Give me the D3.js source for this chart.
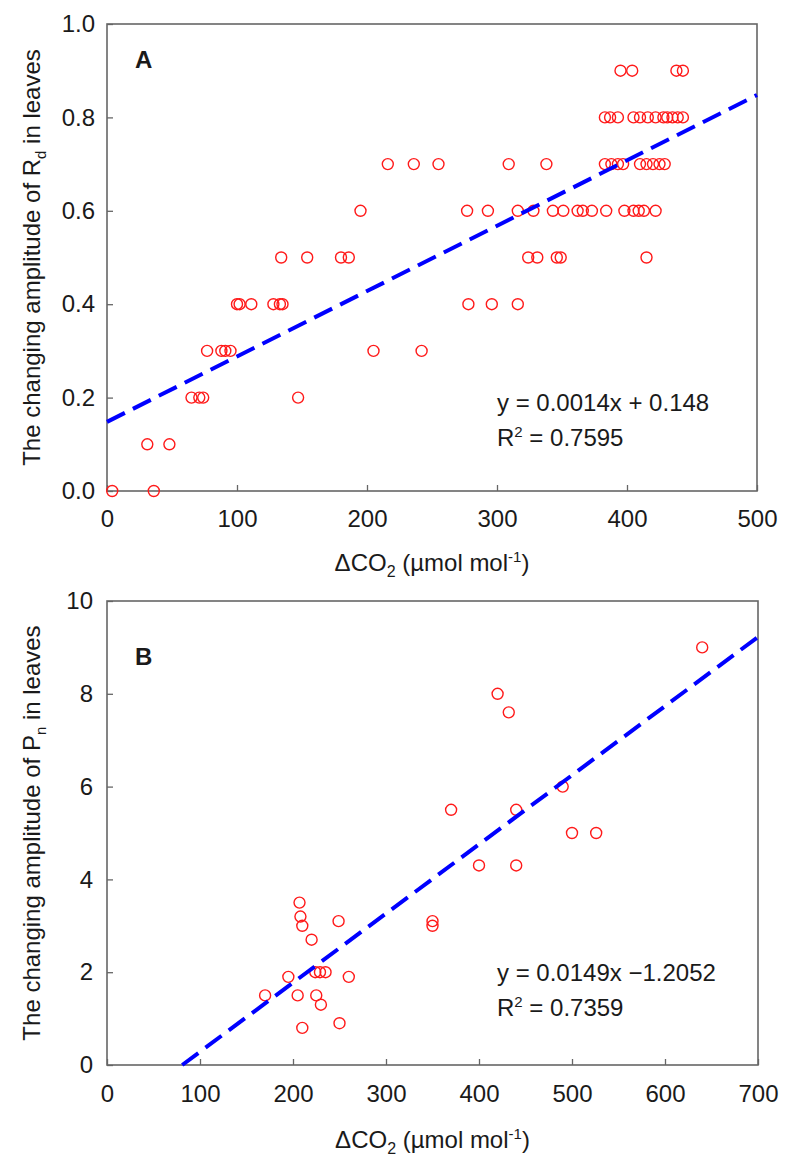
<!DOCTYPE html>
<html>
<head>
<meta charset="utf-8">
<script src="https://cdn.jsdelivr.net/npm/d3@7"></script>
<style>
  html, body { margin: 0; padding: 0; background: #fff; }
  svg text { font-family: "Liberation Sans", Arial, sans-serif; fill: #1a1a1a; }
</style>
</head>
<body>
<svg id="chart" width="787" height="1165"></svg>
<script>
// ---------- Panel A data (Rd) ----------
const rdDeltaCO2 = [
  4, 36,
  31, 48,
  65, 71, 74, 147,
  77, 88, 91, 95, 205, 242,
  100, 102, 111, 128, 133, 135, 278, 296, 316,
  134, 154, 180, 186, 324, 331, 346, 349, 415,
  195, 277, 293, 316, 328, 343, 351, 362, 366, 373, 384, 398, 405, 409, 413, 422,
  216, 236, 255, 309, 338, 383, 388, 393, 397, 410, 415, 420, 425, 429,
  383, 387, 393, 405, 410, 416, 422, 428, 431, 435, 439, 443,
  395, 404, 438, 443
];
const rdAmplitude = [
  0.0, 0.0,
  0.1, 0.1,
  0.2, 0.2, 0.2, 0.2,
  0.3, 0.3, 0.3, 0.3, 0.3, 0.3,
  0.4, 0.4, 0.4, 0.4, 0.4, 0.4, 0.4, 0.4, 0.4,
  0.5, 0.5, 0.5, 0.5, 0.5, 0.5, 0.5, 0.5, 0.5,
  0.6, 0.6, 0.6, 0.6, 0.6, 0.6, 0.6, 0.6, 0.6, 0.6, 0.6, 0.6, 0.6, 0.6, 0.6, 0.6,
  0.7, 0.7, 0.7, 0.7, 0.7, 0.7, 0.7, 0.7, 0.7, 0.7, 0.7, 0.7, 0.7, 0.7,
  0.8, 0.8, 0.8, 0.8, 0.8, 0.8, 0.8, 0.8, 0.8, 0.8, 0.8, 0.8,
  0.9, 0.9, 0.9, 0.9
];
const rdFit = { slope: 0.0014, intercept: 0.148, r2: "0.7595" };
const rdXTicks = [0, 100, 200, 300, 400, 500];
const rdYTicks = [0, 0.2, 0.4, 0.6, 0.8, 1.0];

// ---------- Panel B data (Pn) ----------
const pnDeltaCO2 = [170, 195, 205, 207, 208, 210, 210, 220, 224, 229, 235, 225, 230, 249, 250, 260,
                    350, 350, 370, 400, 420, 432, 440, 440, 490, 500, 526, 640];
const pnAmplitude = [1.5, 1.9, 1.5, 3.5, 3.2, 3.0, 0.8, 2.7, 2.0, 2.0, 2.0, 1.5, 1.3, 3.1, 0.9, 1.9,
                     3.1, 3.0, 5.5, 4.3, 8.0, 7.6, 5.5, 4.3, 6.0, 5.0, 5.0, 9.0];
const pnFit = { slope: 0.0149, intercept: -1.2052, r2: "0.7359" };
const pnXTicks = [0, 100, 200, 300, 400, 500, 600, 700];
const pnYTicks = [0, 2, 4, 6, 8, 10];

const svg = d3.select("#chart");
const FS = 24;
const axisColor = "#666";

function panel(cfg) {
  const x = d3.scaleLinear().domain(cfg.xDomain).range([cfg.left, cfg.right]);
  const y = d3.scaleLinear().domain(cfg.yDomain).range([cfg.bottom, cfg.top]);
  const g = svg.append("g");

  // x axis
  const xa = g.append("g").attr("transform", `translate(0,${cfg.bottom})`)
    .call(d3.axisBottom(x).tickValues(cfg.xTicks).tickSizeInner(-6).tickSizeOuter(0)
      .tickPadding(cfg.xPad).tickFormat(d3.format("d")));
  // y axis
  const ya = g.append("g").attr("transform", `translate(${cfg.left},0)`)
    .call(d3.axisLeft(y).tickValues(cfg.yTicks).tickSizeInner(-6).tickSizeOuter(0)
      .tickPadding(cfg.yPad).tickFormat(cfg.yFormat));
  [xa, ya].forEach(a => {
    a.selectAll("path.domain").remove();
    a.selectAll(".tick line").attr("stroke", axisColor).attr("stroke-width", 1.3);
    a.selectAll(".tick text").attr("font-size", FS).attr("font-family", "Liberation Sans, Arial, sans-serif").attr("fill", "#1a1a1a");
  });

  // frame
  g.append("rect")
    .attr("x", cfg.left).attr("y", cfg.top)
    .attr("width", cfg.right - cfg.left).attr("height", cfg.bottom - cfg.top)
    .attr("fill", "none").attr("stroke", axisColor).attr("stroke-width", 1.6);

  // points
  const pts = cfg.xs.map((v, i) => [v, cfg.ys[i]]);
  g.append("g").selectAll("circle").data(pts).join("circle")
    .attr("cx", d => x(d[0])).attr("cy", d => y(d[1])).attr("r", 5.5)
    .attr("fill", "none").attr("stroke", "#ff1a1a").attr("stroke-width", 1.4);

  // fit line
  const x0 = Math.max(cfg.xDomain[0], (cfg.yDomain[0] - cfg.fit.intercept) / cfg.fit.slope);
  const x1 = cfg.xDomain[1];
  const line = d3.line().x(d => x(d[0])).y(d => y(d[1]));
  g.append("path")
    .attr("d", line([[x0, cfg.fit.slope * x0 + cfg.fit.intercept], [x1, cfg.fit.slope * x1 + cfg.fit.intercept]]))
    .attr("stroke", "#0000ff").attr("stroke-width", 4).attr("fill", "none")
    .attr("stroke-dasharray", "20,9");

  // panel letter
  g.append("text").attr("x", cfg.left + 28).attr("y", cfg.top + cfg.letterDy)
    .attr("font-size", 24).attr("font-weight", "bold").text(cfg.letter);

  // equation
  const eq = g.append("text").attr("x", cfg.eqX).attr("y", cfg.eqY).attr("font-size", FS);
  eq.text(cfg.eqText);
  const r2 = g.append("text").attr("x", cfg.eqX).attr("y", cfg.eqY + 35).attr("font-size", FS);
  r2.append("tspan").text("R");
  r2.append("tspan").attr("font-size", 15).attr("dy", -9).text("2");
  r2.append("tspan").attr("dy", 9).text(" = " + cfg.fit.r2);

  // x title
  const xt = g.append("text").attr("x", (cfg.left + cfg.right) / 2).attr("y", cfg.xTitleY)
    .attr("text-anchor", "middle").attr("font-size", FS);
  xt.append("tspan").text("\u0394CO");
  xt.append("tspan").attr("font-size", 16).attr("dy", 6).text("2");
  xt.append("tspan").attr("dy", -6).text(" (\u00b5mol mol");
  xt.append("tspan").attr("font-size", 15).attr("dy", -9).text("-1");
  xt.append("tspan").attr("dy", 9).text(")");

  // y title
  const yt = g.append("text")
    .attr("transform", `translate(${cfg.yTitleX},${(cfg.top + cfg.bottom) / 2}) rotate(-90)`)
    .attr("text-anchor", "middle").attr("font-size", FS);
  yt.append("tspan").text("The changing amplitude of " + cfg.yVar);
  yt.append("tspan").attr("font-size", 15).attr("dy", 6).text(cfg.ySub);
  yt.append("tspan").attr("dy", -6).text(" in leaves");
}

panel({
  left: 107, right: 757, top: 24, bottom: 491,
  xDomain: [0, 500], yDomain: [0, 1],
  xTicks: rdXTicks, yTicks: rdYTicks, yFormat: d3.format(".1f"),
  xPad: 19, yPad: 12,
  xs: rdDeltaCO2, ys: rdAmplitude, fit: rdFit,
  letter: "A", letterDy: 44,
  eqX: 497, eqY: 411, eqText: "y = 0.0014x + 0.148",
  xTitleY: 571, yTitleX: 40, yVar: "R", ySub: "d"
});

panel({
  left: 107, right: 758, top: 601, bottom: 1065,
  xDomain: [0, 700], yDomain: [0, 10],
  xTicks: pnXTicks, yTicks: pnYTicks, yFormat: d3.format("d"),
  xPad: 20, yPad: 14,
  xs: pnDeltaCO2, ys: pnAmplitude, fit: pnFit,
  letter: "B", letterDy: 64,
  eqX: 497, eqY: 981, eqText: "y = 0.0149x \u22121.2052",
  xTitleY: 1148, yTitleX: 40, yVar: "P", ySub: "n"
});
</script>
</body>
</html>
